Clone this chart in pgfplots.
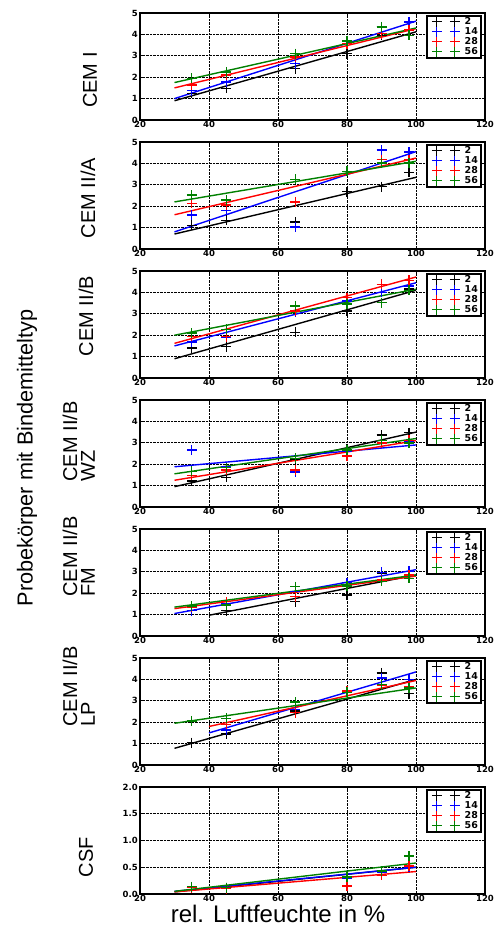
\documentclass[border=0pt]{standalone}
\usepackage{fontspec}
\setmainfont{Liberation Sans}
\newfontfamily\tickfont{DejaVu Sans}
\usepackage{pgfplots}
\pgfplotsset{compat=1.18}

\definecolor{mblue}{RGB}{0,0,255}
\definecolor{mred}{RGB}{255,0,0}
\definecolor{mgreen}{RGB}{0,128,0}

\newcommand{\leg}{\legend{2,14,28,56}}

\pgfplotsset{
  panel/.style={
    width=345pt, height=107pt, scale only axis, anchor=north west,
    xmin=20, xmax=120, xtick={20,40,...,120}, xticklabels={20,40,60,80,100,120},
    ymin=0, ymax=5, ytick={0,...,5}, yticklabels={0,1,2,3,4,5},
    grid=major, grid style={black, densely dotted, line width=1pt},
    axis line style={line width=1.2pt},
    tick align=inside, major tick length=3pt, tick style={black, line width=0.8pt},
    tick label style={font=\tickfont\bfseries\fontsize{8.5}{9}\selectfont},
    xticklabel style={inner sep=1pt},
    yticklabel style={inner sep=2pt},
    legend cell align=left,
    legend style={at={(0.991,0.981)}, anchor=north east, draw=black, line width=1.5pt,
      fill=white, font=\tickfont\bfseries\fontsize{9.5}{10}\selectfont,
      inner xsep=2pt, inner ysep=1pt, row sep=0pt,
      nodes={inner xsep=1.2pt, inner ysep=0.7pt}},
    legend image code/.code={%
      \draw[#1, only marks] plot coordinates {(7pt,0pt) (25pt,0pt)} (0pt,0pt) (33pt,0pt);},
  },
  pts/.style={only marks, mark=+, mark size=5pt, mark options={line width=1.4pt}, color=#1},
  fit/.style={color=#1, line width=1.4pt, no marks, forget plot},
}

\begin{document}
\begin{tikzpicture}
\useasboundingbox (0,0) rectangle (501pt,-929pt);

% CEM I
\begin{axis}[panel, at={(140pt,-13pt)}]
\addplot[fit=black]  coordinates {(30,0.90) (100,4.12)};
\addplot[fit=mblue]  coordinates {(30,1.00) (100,4.62)};
\addplot[fit=mred]   coordinates {(30,1.50) (100,4.27)};
\addplot[fit=mgreen] coordinates {(30,1.75) (100,4.30)};
\addplot[pts=black]  coordinates {(35,1.25) (45,1.48) (65,2.40) (80,3.10) (90,3.95) (98,4.22)};
\addplot[pts=mblue]  coordinates {(35,1.37) (45,1.78) (65,2.64) (80,3.57) (90,4.35) (98,4.58)};
\addplot[pts=mred]   coordinates {(35,1.63) (45,2.10) (65,2.95) (80,3.57) (90,4.04) (98,4.20)};
\addplot[pts=mgreen] coordinates {(35,1.94) (45,2.25) (65,3.10) (80,3.70) (90,4.35) (98,3.96)};
\leg
\end{axis}

% CEM II/A
\begin{axis}[panel, at={(140pt,-142pt)}]
\addplot[fit=black]  coordinates {(30,0.70) (100,3.35)};
\addplot[fit=mblue]  coordinates {(30,0.80) (100,4.55)};
\addplot[fit=mred]   coordinates {(30,1.60) (100,4.25)};
\addplot[fit=mgreen] coordinates {(30,2.20) (100,4.10)};
\addplot[pts=black]  coordinates {(35,1.10) (45,1.34) (65,1.26) (80,2.68) (90,2.92) (98,3.58)};
\addplot[pts=mblue]  coordinates {(35,1.58) (45,1.81) (65,1.03) (80,3.63) (90,4.62) (98,4.53)};
\addplot[pts=mred]   coordinates {(35,2.13) (45,2.05) (65,2.20) (80,3.63) (90,4.18) (98,4.18)};
\addplot[pts=mgreen] coordinates {(35,2.52) (45,2.29) (65,3.26) (80,3.63) (90,4.02) (98,4.02)};
\leg
\end{axis}

% CEM II/B
\begin{axis}[panel, at={(140pt,-271pt)}]
\addplot[fit=black]  coordinates {(30,0.90) (100,4.10)};
\addplot[fit=mblue]  coordinates {(30,1.50) (100,4.45)};
\addplot[fit=mred]   coordinates {(30,1.62) (100,4.72)};
\addplot[fit=mgreen] coordinates {(30,2.00) (100,4.15)};
\addplot[pts=black]  coordinates {(35,1.40) (45,1.46) (65,2.13) (80,3.14) (90,4.00) (98,4.15)};
\addplot[pts=mblue]  coordinates {(35,1.69) (45,1.90) (65,3.10) (80,3.60) (90,4.00) (98,4.30)};
\addplot[pts=mred]   coordinates {(35,1.95) (45,1.93) (65,3.14) (80,3.76) (90,4.38) (98,4.57)};
\addplot[pts=mgreen] coordinates {(35,2.10) (45,2.28) (65,3.37) (80,3.45) (90,3.52) (98,4.10)};
\leg
\end{axis}

% CEM II/B WZ
\begin{axis}[panel, at={(140pt,-400pt)}]
\addplot[fit=black]  coordinates {(30,0.95) (100,3.50)};
\addplot[fit=mblue]  coordinates {(30,1.88) (100,2.90)};
\addplot[fit=mred]   coordinates {(30,1.25) (100,3.10)};
\addplot[fit=mgreen] coordinates {(30,1.55) (100,3.20)};
\addplot[pts=black]  coordinates {(35,1.22) (45,1.38) (65,2.23) (80,2.69) (90,3.36) (98,3.47)};
\addplot[pts=mblue]  coordinates {(35,2.66) (45,1.87) (65,1.64) (80,2.60) (90,3.10) (98,3.05)};
\addplot[pts=mred]   coordinates {(35,1.48) (45,1.72) (65,1.72) (80,2.38) (90,3.00) (98,3.12)};
\addplot[pts=mgreen] coordinates {(35,1.67) (45,1.84) (65,2.27) (80,2.66) (90,3.12) (98,3.00)};
\leg
\end{axis}

% CEM II/B FM
\begin{axis}[panel, at={(140pt,-529pt)}]
\addplot[fit=black]  coordinates {(40,0.97) (100,2.85)};
\addplot[fit=mblue]  coordinates {(30,1.05) (100,3.10)};
\addplot[fit=mred]   coordinates {(30,1.28) (100,2.80)};
\addplot[fit=mgreen] coordinates {(30,1.35) (100,2.85)};
\addplot[pts=black]  coordinates {(35,1.40) (45,1.19) (65,1.60) (80,1.92) (90,2.94) (98,2.86)};
\addplot[pts=mblue]  coordinates {(35,1.19) (45,1.53) (65,2.08) (80,2.50) (90,2.97) (98,3.02)};
\addplot[pts=mred]   coordinates {(35,1.35) (45,1.60) (65,1.84) (80,2.34) (90,2.62) (98,2.86)};
\addplot[pts=mgreen] coordinates {(35,1.40) (45,1.45) (65,2.31) (80,2.34) (90,2.55) (98,2.70)};
\leg
\end{axis}

% CEM II/B LP
\begin{axis}[panel, at={(140pt,-658pt)}]
\addplot[fit=black]  coordinates {(30,0.78) (100,4.00)};
\addplot[fit=mblue]  coordinates {(40,1.50) (100,4.35)};
\addplot[fit=mred]   coordinates {(40,1.80) (100,3.95)};
\addplot[fit=mgreen] coordinates {(30,1.95) (100,3.60)};
\addplot[pts=black]  coordinates {(35,1.05) (45,1.44) (65,2.52) (80,3.48) (90,4.30) (98,3.33)};
\addplot[pts=mblue]  coordinates {(45,1.63) (65,2.60) (80,3.45) (90,4.07) (98,4.00)};
\addplot[pts=mred]   coordinates {(45,1.90) (65,2.45) (80,3.45) (90,3.73) (98,3.68)};
\addplot[pts=mgreen] coordinates {(35,2.06) (45,2.18) (65,2.94) (80,3.40) (90,3.76) (98,3.60)};
\leg
\end{axis}

% CSF
\begin{axis}[panel, at={(140pt,-787pt)}, ymax=2, ytick={0,0.5,...,2}, yticklabels={0.0,0.5,1.0,1.5,2.0}]
\addplot[fit=black]  coordinates {(30,0.04) (100,0.50)};
\addplot[fit=mblue]  coordinates {(30,0.05) (100,0.50)};
\addplot[fit=mred]   coordinates {(30,0.04) (100,0.42)};
\addplot[fit=mgreen] coordinates {(30,0.05) (100,0.58)};
\addplot[pts=black]  coordinates {(35,0.12) (45,0.12) (80,0.30) (90,0.43) (98,0.50)};
\addplot[pts=mblue]  coordinates {(35,0.12) (45,0.12) (80,0.30) (90,0.40) (98,0.50)};
\addplot[pts=mred]   coordinates {(35,0.12) (45,0.10) (80,0.15) (90,0.35) (98,0.52)};
\addplot[pts=mgreen] coordinates {(35,0.14) (45,0.12) (80,0.32) (90,0.43) (98,0.71)};
\leg
\end{axis}

% row labels
\begin{scope}[every node/.style={rotate=90, font=\fontsize{20}{24}\selectfont}]
\node at (90pt,-80pt) {CEM I};
\node at (88pt,-198pt) {CEM II/A};
\node at (86pt,-316pt) {CEM II/B};
\node[anchor=west] at (70pt,-485pt) {CEM II/B};
\node[anchor=west] at (88pt,-485pt) {WZ};
\node[anchor=west] at (70pt,-600pt) {CEM II/B};
\node[anchor=west] at (88pt,-600pt) {FM};
\node[anchor=west] at (70pt,-730pt) {CEM II/B};
\node[anchor=west] at (88pt,-730pt) {LP};
\node at (86pt,-857pt) {CSF};
\end{scope}

\node[rotate=90, font=\fontsize{21.7}{26}\selectfont] at (27pt,-458pt) {Probekörper mit Bindemitteltyp};
\node[anchor=base, font=\fontsize{24}{28}\selectfont] at (278pt,-922pt) {rel. Luftfeuchte in \%};
\end{tikzpicture}
\end{document}
